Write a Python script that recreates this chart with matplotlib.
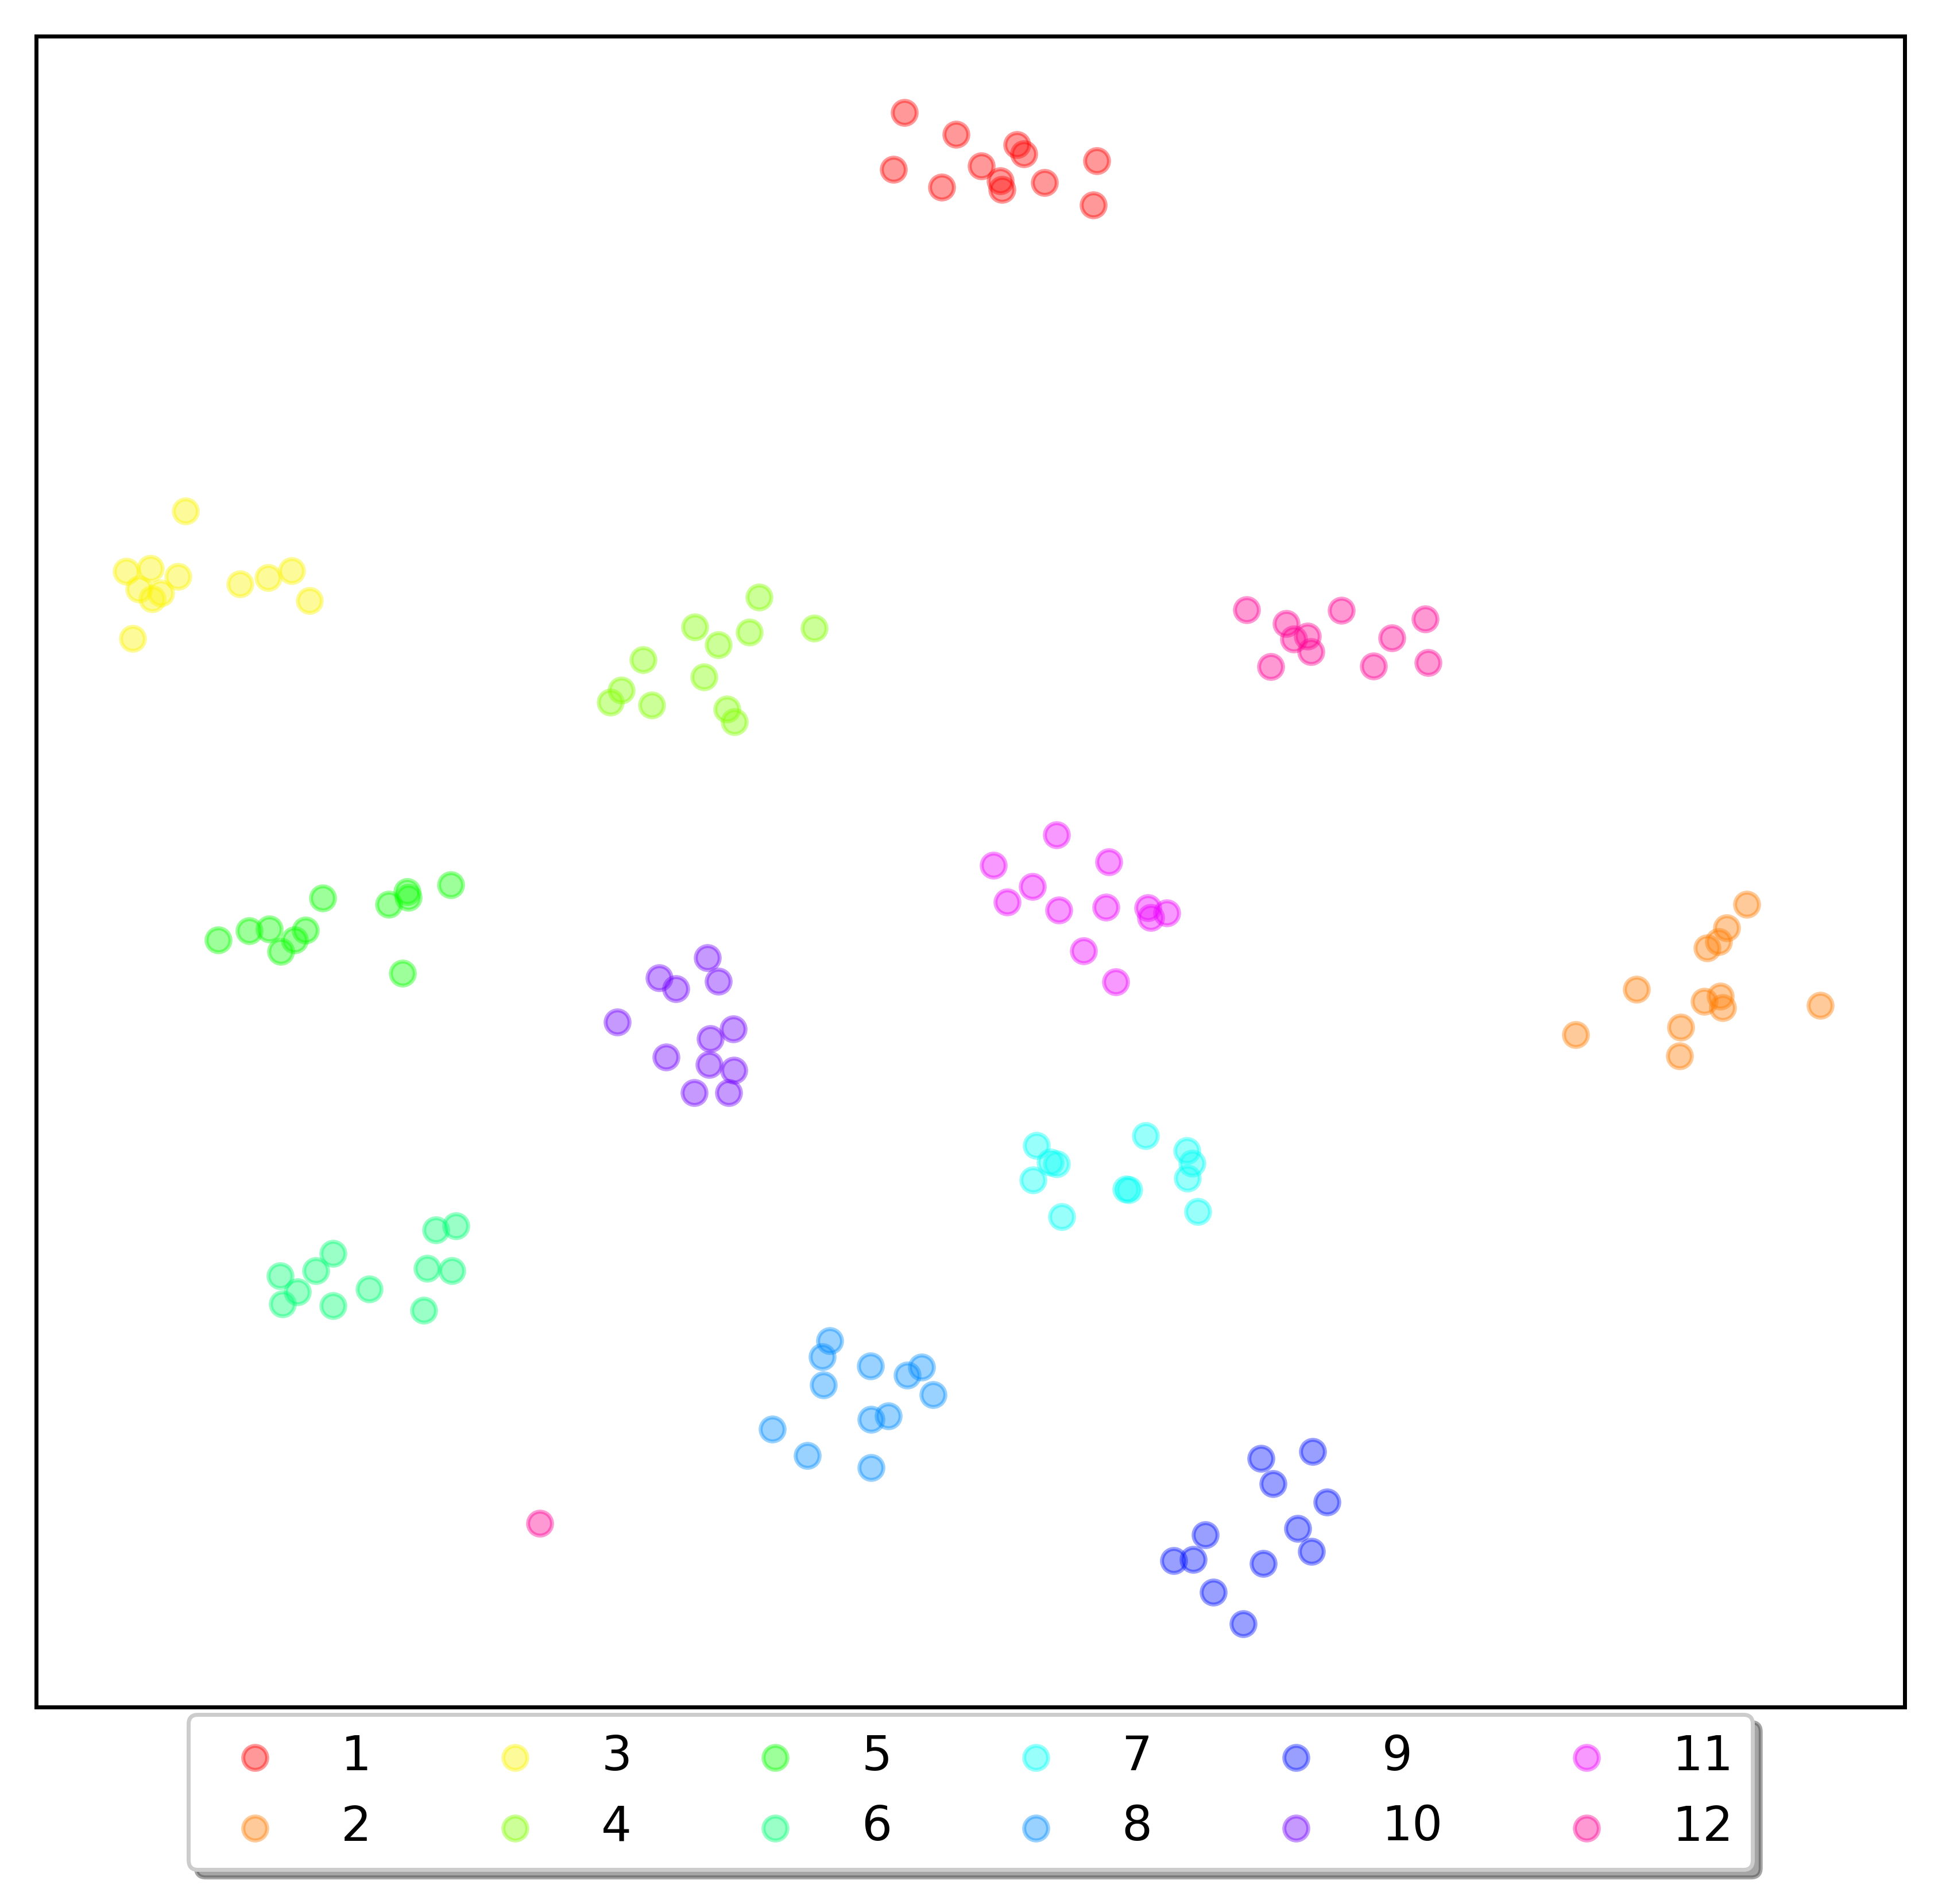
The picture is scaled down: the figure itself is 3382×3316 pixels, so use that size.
import matplotlib
matplotlib.use("Agg")
import matplotlib.pyplot as plt

# embedding coordinates of each class
labels = [str(i) for i in range(1, 13)]

x1 = [1575, 1665, 1771, 1783, 1556, 1709, 1742, 1745, 1640, 1819, 1910, 1904]
y1 = [196, 234, 252, 268, 295, 289, 315, 330, 326, 318, 280, 357]
x2 = [3042, 3007, 2993, 2973, 2850, 2996, 2968, 3000, 3170, 2927, 2744, 2925]
y2 = [1575, 1616, 1640, 1651, 1723, 1735, 1744, 1755, 1751, 1789, 1802, 1839]
x3 = [323, 220, 262, 310, 242, 265, 280, 418, 467, 508, 539, 231]
y3 = [890, 995, 990, 1004, 1026, 1043, 1033, 1017, 1006, 994, 1046, 1112]
x4 = [1322, 1210, 1305, 1418, 1251, 1120, 1226, 1082, 1063, 1135, 1266, 1279]
y4 = [1040, 1092, 1101, 1094, 1123, 1149, 1179, 1202, 1223, 1228, 1235, 1257]
x5 = [380, 434, 469, 532, 513, 489, 562, 677, 709, 711, 785, 701]
y5 = [1637, 1621, 1618, 1620, 1637, 1657, 1564, 1575, 1553, 1563, 1541, 1695]
x6 = [759, 794, 580, 488, 550, 744, 787, 518, 643, 492, 580, 738]
y6 = [2142, 2135, 2183, 2222, 2213, 2209, 2213, 2250, 2245, 2271, 2274, 2282]
x7 = [1995, 1805, 2067, 2076, 1829, 1840, 1799, 2068, 1961, 1966, 2086, 1849]
y7 = [1978, 1995, 2004, 2026, 2024, 2027, 2055, 2052, 2071, 2072, 2110, 2119]
x8 = [1445, 1432, 1516, 1605, 1580, 1434, 1625, 1547, 1517, 1345, 1406, 1517]
y8 = [2335, 2363, 2379, 2381, 2395, 2412, 2429, 2466, 2472, 2489, 2535, 2556]
x9 = [2286, 2196, 2217, 2311, 2260, 2099, 2284, 2044, 2078, 2200, 2113, 2165]
y9 = [2528, 2540, 2584, 2616, 2662, 2673, 2702, 2718, 2716, 2723, 2773, 2828]
x10 = [1232, 1148, 1177, 1251, 1075, 1277, 1237, 1160, 1235, 1278, 1209, 1269]
y10 = [1668, 1703, 1722, 1709, 1780, 1792, 1809, 1841, 1854, 1864, 1903, 1903]
x11 = [1840, 1730, 1931, 1798, 1754, 1844, 1926, 1999, 2004, 2032, 1887, 1943]
y11 = [1454, 1507, 1501, 1544, 1571, 1585, 1580, 1581, 1598, 1590, 1656, 1710]
x12 = [2171, 2240, 2336, 2253, 2277, 2283, 2213, 2424, 2482, 2392, 2487, 940]
y12 = [1062, 1086, 1063, 1113, 1108, 1135, 1161, 1111, 1078, 1160, 1154, 2653]

xs = [x1, x2, x3, x4, x5, x6, x7, x8, x9, x10, x11, x12]
ys = [y1, y2, y3, y4, y5, y6, y7, y8, y9, y10, y11, y12]

fig = plt.figure(figsize=(3382 / 500, 3316 / 500), dpi=500)
ax = fig.add_axes([63 / 3382, 1 - 2973 / 3316, (3317 - 63) / 3382, (2973 - 63) / 3316])

for i, (x, y) in enumerate(zip(xs, ys)):
    ax.scatter(x, y, color=plt.cm.hsv(i / 12), alpha=0.4, label=labels[i])

ax.set_xlim(63, 3317)
ax.set_ylim(2973, 63)
ax.set_xticks([])
ax.set_yticks([])
for sp in ax.spines.values():
    sp.set_linewidth(1.0)

ax.legend(loc='upper center', bbox_to_anchor=(0.5, 0), ncol=6, shadow=True,
          fancybox=True, fontsize=12, borderaxespad=0.15)

fig.savefig("out.png", dpi=500)
